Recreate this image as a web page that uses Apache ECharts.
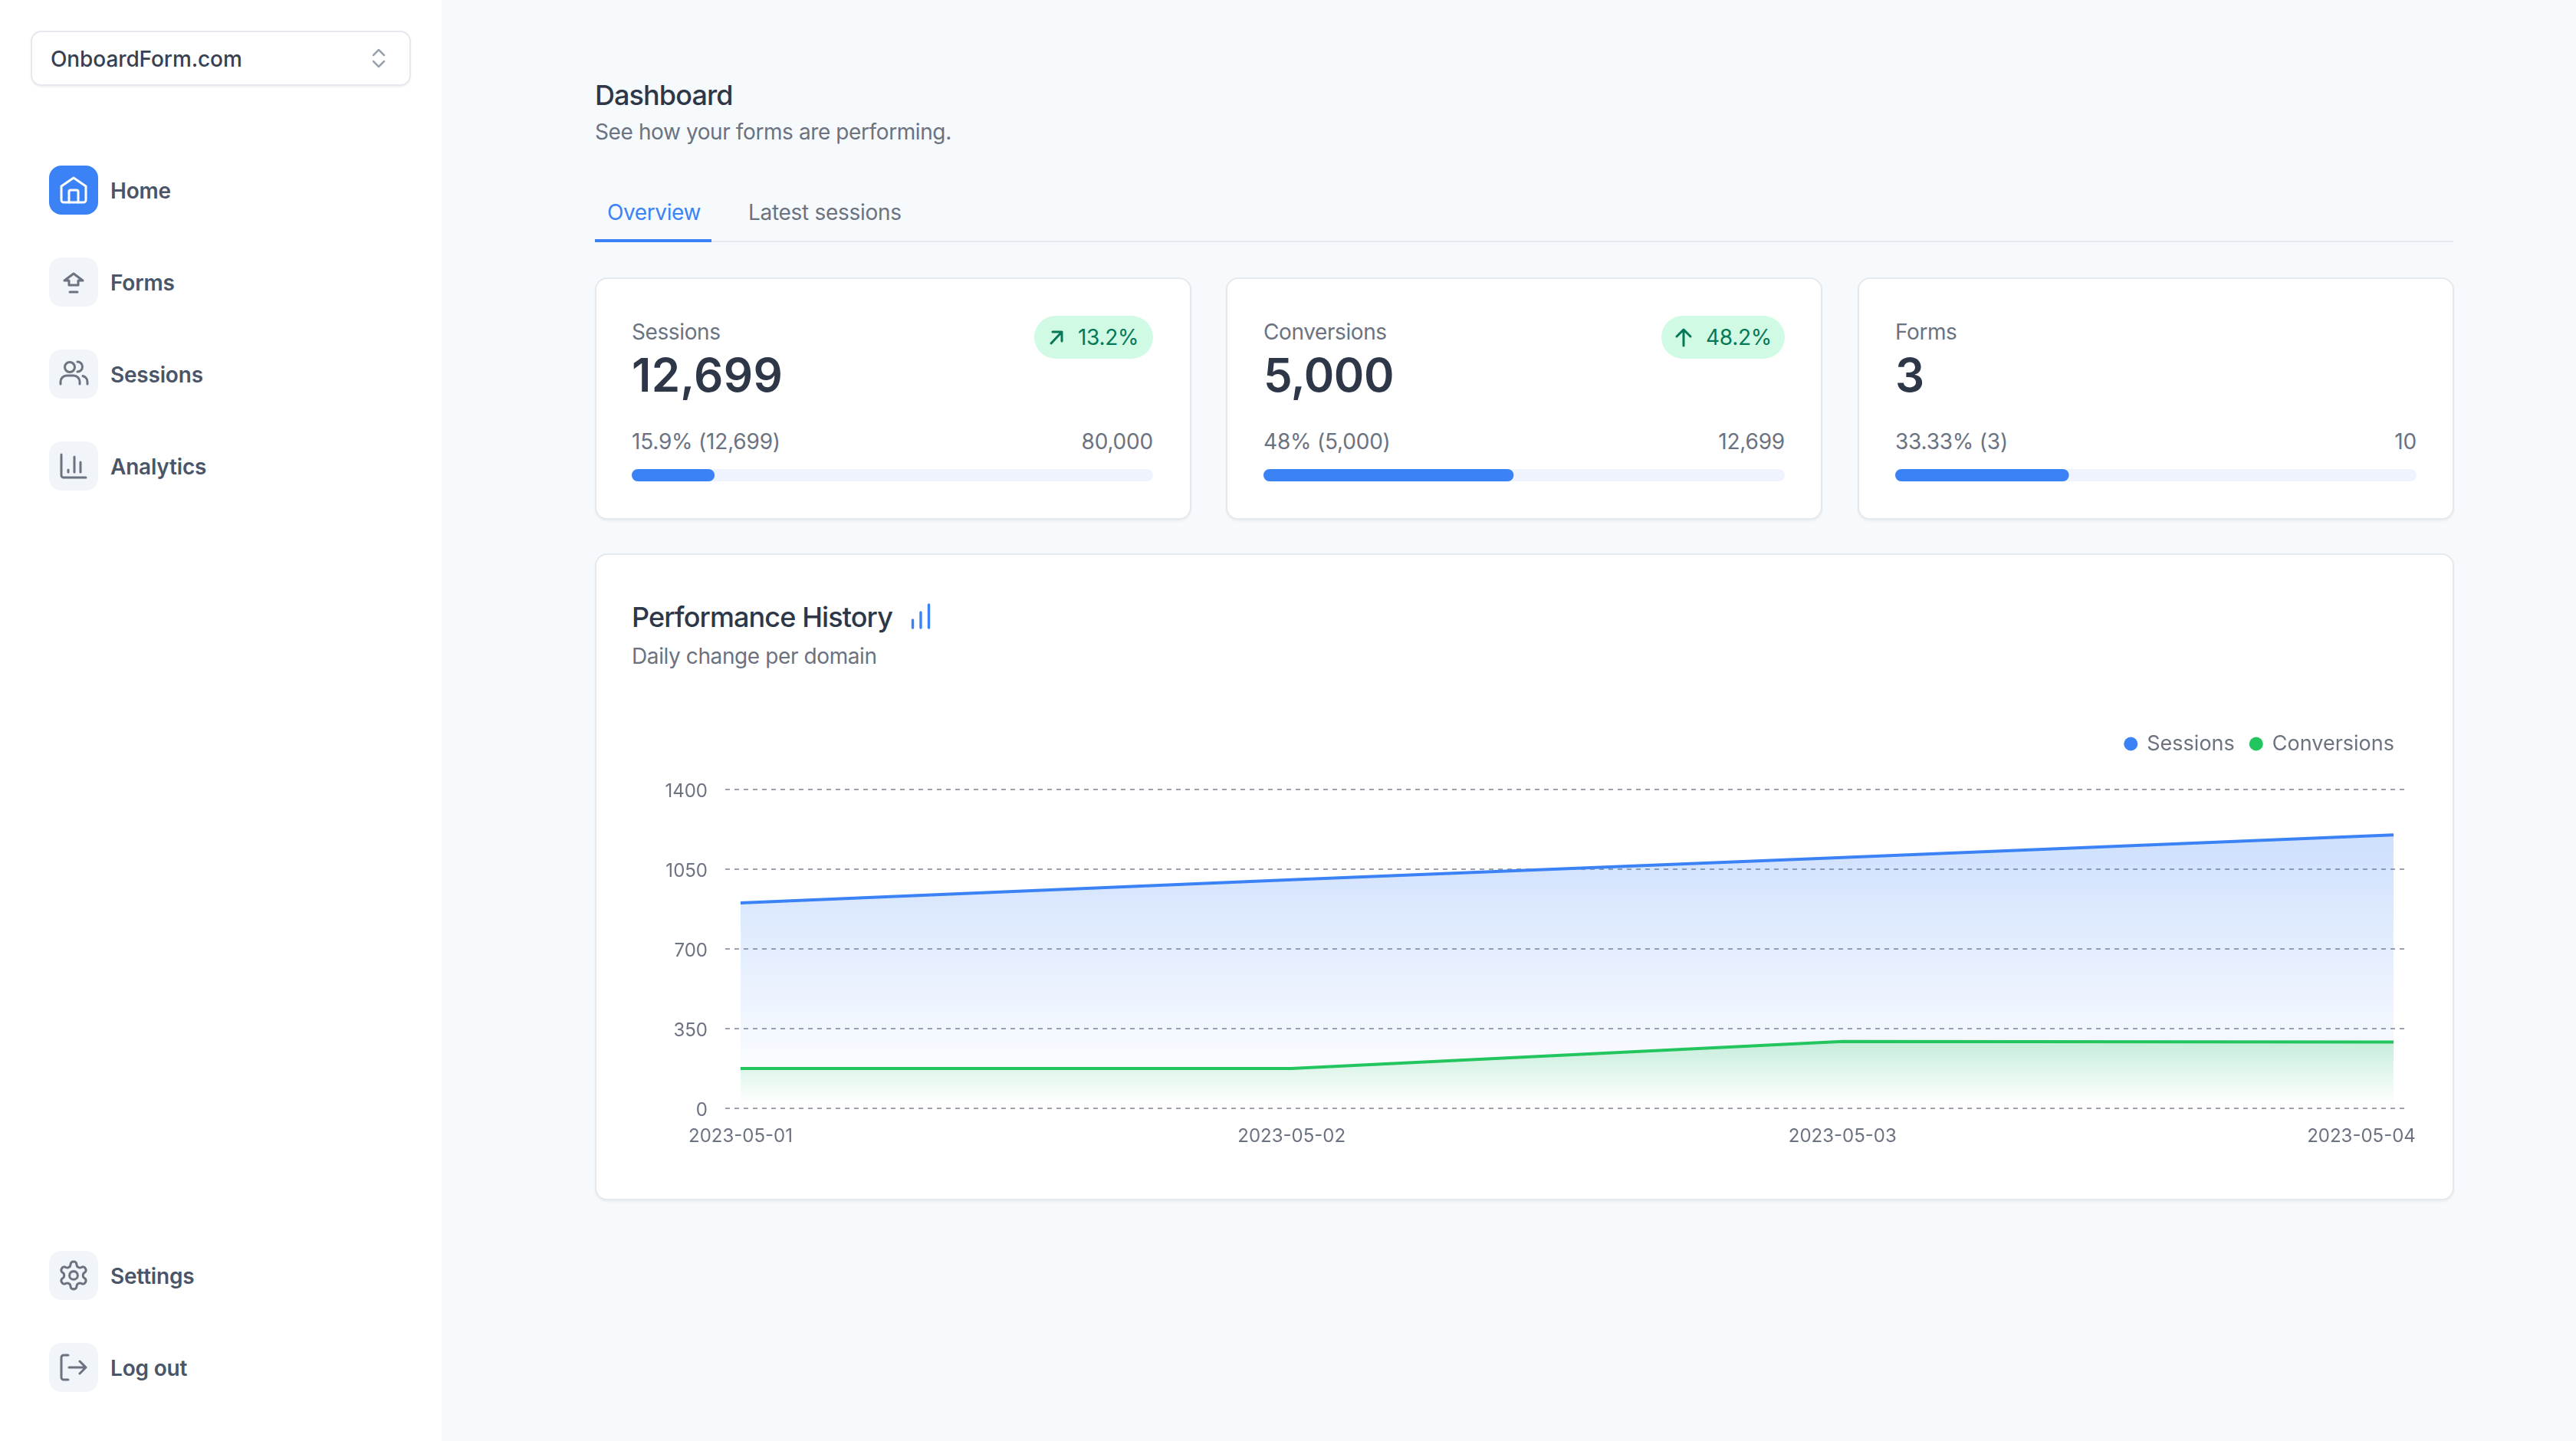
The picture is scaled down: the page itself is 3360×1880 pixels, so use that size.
<!DOCTYPE html>
<html><head><meta charset="utf-8"><title>Dashboard</title>
<script src="https://cdn.jsdelivr.net/npm/echarts@6/dist/echarts.min.js"></script>
<style>
*{box-sizing:border-box;margin:0;padding:0}
html,body{width:3360px;height:1880px;overflow:hidden;background:#f7fafc;font-family:Inter,sans-serif}
#side{position:absolute;left:0;top:0;width:576px;height:1880px;background:#fff}
.t{position:absolute;white-space:nowrap;transform:translateY(calc(-50% + 2px));line-height:1.2;font-size:28px;color:#6b7280;letter-spacing:-.4px}
.r{transform:translate(-100%,calc(-50% + 2px))}
.n{letter-spacing:-.2px}
.nav{color:#4a5568;font-weight:600;letter-spacing:-.2px}
.h{font-size:36px;font-weight:500;color:#2d3748;letter-spacing:-.9px}
.box{position:absolute;background:#fff;border:2px solid #e5e9ee;border-radius:16px;box-shadow:0 2px 3px rgba(0,0,0,.05)}
.ico{position:absolute;left:64px;width:64px;height:64px;border-radius:16px;background:#f1f5f9}
.ico svg{display:block;width:64px;height:64px;fill:none;stroke:#6b7280;stroke-width:3;stroke-linecap:round;stroke-linejoin:round}
.badge{position:absolute;top:412px;height:56px;border-radius:28px;background:#d1fae5}
svg.abs{position:absolute;left:0;top:0;width:3360px;height:1880px;fill:none}
#chart{position:absolute;left:0;top:0;width:3360px;height:1880px;pointer-events:none}
</style></head><body>
<div id="side"></div>
<div id="shell"></div>
<svg class="abs" viewBox="0 0 3360 1880" id="marks">
 <path d="M487 72L494 65L501 72M487 80L494 87L501 80" stroke="#9ca3af" stroke-width="2.5" stroke-linecap="round" stroke-linejoin="round"/>
 <path d="M1371 448L1385 433M1373 433H1385V445" stroke="#047857" stroke-width="3" stroke-linecap="round" stroke-linejoin="round"/>
 <path d="M2196 451V430M2187 439L2196 430L2205 439" stroke="#047857" stroke-width="3" stroke-linecap="round" stroke-linejoin="round"/>
 <path d="M1190.5 809V819M1201 799V819M1211.5 789V819" stroke="#3b82f6" stroke-width="3.4" stroke-linecap="round"/>
</svg>
<div id="chart"></div>
<script>
// ---- chart data ----
const dates = ['2023-05-01', '2023-05-02', '2023-05-03', '2023-05-04'];
const sessions = [902, 1004, 1101, 1201];
const conversions = [175, 175, 294, 291];
const yTicks = [0, 350, 700, 1050, 1400];
const seriesNames = ['Sessions', 'Conversions'];
const progressValues = [15.9, 48, 33.33];
// the last date label sits left of its point, as it was kept inside the plot
const dateLabelAt = [0, 1, 2, 2.9416];
// ---- card text ----
const cardTitles = ['Sessions', 'Conversions', 'Forms'];
const cardTotals = ['12,699', '5,000', '3'];
const cardDetails = ['15.9% (12,699)', '48% (5,000)', '33.33% (3)'];
const cardLimits = ['80,000', '12,699', '10'];
const navItems = ['Home', 'Forms', 'Sessions', 'Analytics', 'Settings', 'Log out'];

const cog = '<g transform="translate(10.5 10.5) scale(1.79)" stroke-width="1.7"><path d="M12.22 2h-.44a2 2 0 0 0-2 2v.18a2 2 0 0 1-1 1.73l-.43.25a2 2 0 0 1-2 0l-.15-.08a2 2 0 0 0-2.73.73l-.22.38a2 2 0 0 0 .73 2.73l.15.1a2 2 0 0 1 1 1.72v.51a2 2 0 0 1-1 1.74l-.15.09a2 2 0 0 0-.73 2.73l.22.38a2 2 0 0 0 2.73.73l.15-.08a2 2 0 0 1 2 0l.43.25a2 2 0 0 1 1 1.73V20a2 2 0 0 0 2 2h.44a2 2 0 0 0 2-2v-.18a2 2 0 0 1 1-1.73l.43-.25a2 2 0 0 1 2 0l.15.08a2 2 0 0 0 2.73-.73l.22-.39a2 2 0 0 0-.73-2.73l-.15-.08a2 2 0 0 1-1-1.74v-.5a2 2 0 0 1 1-1.74l.15-.09a2 2 0 0 0 .73-2.73l-.22-.38a2 2 0 0 0-2.73-.73l-.15.08a2 2 0 0 1-2 0l-.43-.25a2 2 0 0 1-1-1.73V4a2 2 0 0 0-2-2z"/><circle cx="12" cy="12" r="3"/></g>';
const iconPaths = [
 '<g stroke="#fff"><path d="M16 27L32 16L48 27V45a3 3 0 0 1-3 3H19a3 3 0 0 1-3-3Z"/><path d="M26 48V34a2 2 0 0 1 2-2h8a2 2 0 0 1 2 2V48"/></g>',
 '<path d="M32 21L44 30H38V36H26V30H20Z"/><path d="M27 45H37"/>',
 '<circle cx="27" cy="23" r="6.5"/><path d="M15 45V42a8 8 0 0 1 8-8h9a8 8 0 0 1 8 8v3"/><path d="M37 16a6.5 6.5 0 0 1 0 13"/><path d="M44 34.500a8 8 0 0 1 6 8v2.500"/>',
 '<path d="M16 17V44a3 3 0 0 0 3 3H48"/><path d="M25 40V37M33 40V20M41 40V27"/>',
 cog,
 '<path d="M25 16H19a3 3 0 0 0-3 3V45a3 3 0 0 0 3 3h6"/><path d="M26 32H48M40 24l8 8-8 8"/>'
];
const navY = [216, 336, 456, 576, 1632, 1752];
const cardX = [776, 1599, 2423];
const bars = [824, 1648, 2472];
const totalSpacing = [.3, -.5, 0];
let h = '';
const T = (x, y, s, css, cls) => `<div class="t ${cls||''}" style="left:${x}px;top:${y}px;${css||''}">${s}</div>`;
h += '<div class="box" style="left:40px;top:40px;width:496px;height:72px;border-radius:14px"></div>';
h += T(66, 76, 'OnboardForm.com', 'color:#374151;font-weight:500;letter-spacing:-.1px');
navItems.forEach((n, i) => {
  h += `<div class="ico" style="top:${navY[i]}px;${i===0?'background:#3b82f6':''}"><svg viewBox="0 0 64 64">${iconPaths[i]}</svg></div>`;
  h += T(144, navY[i] + 32, n, '', 'nav');
});
h += T(776, 123, 'Dashboard', '', 'h');
h += T(776, 171, 'See how your forms are performing.');
h += T(792, 276, 'Overview', 'color:#3b82f6');
h += T(976, 276, 'Latest sessions', 'letter-spacing:-.3px');
h += '<div style="position:absolute;left:776px;top:314px;width:2424px;height:2px;background:#e5e9ee"></div>';
h += '<div style="position:absolute;left:776px;top:312px;width:152px;height:4px;background:#3b82f6"></div>';
cardX.forEach((x, i) => {
  const b = bars[i];
  h += `<div class="box" style="left:${x}px;top:362px;width:778px;height:316px"></div>`;
  h += T(b, 432, cardTitles[i]);
  h += T(b, 487, cardTotals[i], `font-size:60px;font-weight:600;color:#2d3748;letter-spacing:${totalSpacing[i]}px`);
  h += T(b, 575, cardDetails[i], '', 'n');
  h += T(b + 680, 575, cardLimits[i], '', 'r n');
});
h += '<div class="badge" style="left:1349px;width:155px"></div>' + T(1406, 439, '13.2%', 'color:#047857;letter-spacing:-.3px');
h += '<div class="badge" style="left:2167px;width:161px"></div>' + T(2225, 439, '48.2%', 'color:#047857;letter-spacing:-.3px');
h += '<div class="box" style="left:776px;top:722px;width:2425px;height:844px"></div>';
h += T(824, 804, 'Performance History', '', 'h');
h += T(824, 855, 'Daily change per domain');
document.getElementById('shell').innerHTML = h;

const font = 'Inter, sans-serif';
const grad = (rgb, a) => ({type:'linear',x:0,y:0,x2:0,y2:1,colorStops:[{offset:0,color:`rgba(${rgb},${a})`},{offset:.95,color:`rgba(${rgb},0)`}]});
const pg = progressValues.map((v, i) => i);
const line = (name, vals, color, rgb, a) => ({
  name, type:'line', xAxisIndex:0, yAxisIndex:0, showSymbol:false, silent:true,
  data: vals.map((v, i) => [i, v]),
  lineStyle:{color, width:4}, itemStyle:{color}, areaStyle:{color:grad(rgb, a), opacity:1}
});
const chart = echarts.init(document.getElementById('chart'), null, {renderer:'canvas', width:3360, height:1880});
chart.setOption({
  animation:false,
  backgroundColor:'transparent',
  legend:{show:true, right:232, top:952, icon:'circle', itemWidth:18, itemHeight:18, itemGap:19, data:seriesNames,
    textStyle:{fontFamily:font, fontSize:27, color:'#6b7280', padding:[0,0,0,7]}},
  grid:[
    {left:946, top:1030, width:2190, height:416},
    ...pg.map(i => ({left:bars[i], top:612, width:680, height:16}))
  ],
  xAxis:[
    {type:'value', gridIndex:0, min:-0.02783, max:3.01948, axisLine:{show:false}, axisTick:{show:false}, splitLine:{show:false},
     axisLabel:{customValues:dateLabelAt, formatter:v => dates[dateLabelAt.indexOf(v)], fontFamily:font, fontSize:24, color:'#6b7280', margin:25}},
    ...pg.map(i => ({type:'value', gridIndex:i+1, min:0, max:100, show:false}))
  ],
  yAxis:[
    {type:'value', gridIndex:0, min:yTicks[0], max:yTicks[yTicks.length-1], interval:yTicks[1], axisLine:{show:false}, axisTick:{show:false},
     splitLine:{lineStyle:{color:'#9ca3af', width:2, type:[6,6]}},
     axisLabel:{formatter:v => '{a|' + v + '}', rich:{a:{padding:[5,0,0,0], fontFamily:font, fontSize:24, color:'#6b7280'}}, margin:23}},
    ...pg.map(i => ({type:'category', gridIndex:i+1, data:[cardTitles[i]], show:false}))
  ],
  series:[
    line(seriesNames[0], sessions, '#3b82f6', '59,130,246', .25),
    line(seriesNames[1], conversions, '#22c55e', '34,197,94', .22),
    ...pg.map(i => ({type:'bar', xAxisIndex:i+1, yAxisIndex:i+1, barWidth:16, silent:true, data:[progressValues[i]],
      showBackground:true, backgroundStyle:{color:'#eef3fe', borderRadius:8},
      itemStyle:{color:'#3b82f6', borderRadius:8}}))
  ]
});
</script></body></html>
